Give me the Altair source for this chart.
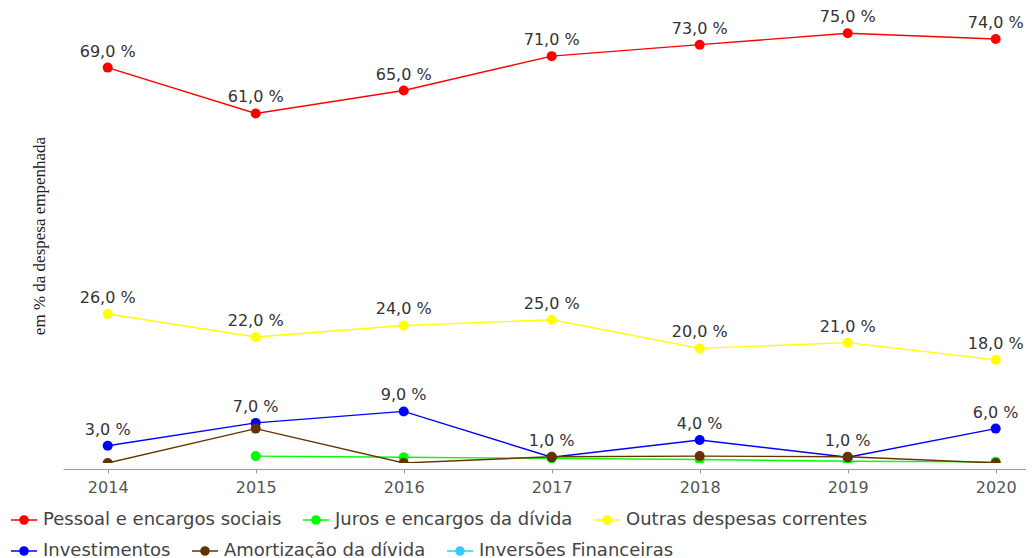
import altair as alt
import pandas as pd

years = ["2014", "2015", "2016", "2017", "2018", "2019", "2020"]
series_names = [
    "Pessoal e encargos sociais",
    "Juros e encargos da dívida",
    "Outras despesas correntes",
    "Investimentos",
    "Amortização da dívida",
    "Inversões Financeiras",
]
series_colors = ["#ff0000", "#00ff00", "#ffff00", "#0000ff", "#663300", "#33ccff"]

pessoal = [69, 61, 65, 71, 73, 75, 74]
juros = [None, 1.2, 1.0, 0.8, 0.6, 0.3, 0.2]
outras = [26, 22, 24, 25, 20, 21, 18]
investimentos = [3, 7, 9, 1, 4, 1, 6]
amortizacao = [0, 6, 0, 1.1, 1.2, 1.1, 0]
inversoes = [None, None, None, None, None, None, None]

labeled_series = [series_names[0], series_names[2], series_names[3]]

all_values = [pessoal, juros, outras, investimentos, amortizacao, inversoes]
rows = []
for name, vals in zip(series_names, all_values):
    for yr, v in zip(years, vals):
        if v is None:
            continue
        rows.append({
            "ano": yr,
            "serie": name,
            "valor": v,
            "rotulo": f"{v:.1f}".replace(".", ",") + " %",
        })
df = pd.DataFrame(rows)

PLOT_W = 963
PLOT_H = 455

x_enc = alt.X(
    "ano:O",
    scale=alt.Scale(type="point", domain=years, padding=0.2534, align=0.596),
    axis=alt.Axis(
        title=None, labelAngle=0, offset=6, domainColor="#999999", tickColor="#999999",
        tickSize=4, labelColor="#555555", labelFont="DejaVu Sans", labelFontSize=16,
        labelPadding=6, grid=False,
    ),
)
y_enc = alt.Y(
    "valor:Q",
    scale=alt.Scale(domain=[0, 79.4], nice=False, zero=False),
    axis=alt.Axis(
        title="em % da despesa empenhada", labels=False, ticks=False, domain=False,
        grid=False, titleFont="Liberation Serif", titleFontSize=17,
        titleFontWeight="normal", titleColor="#222222", titlePadding=15,
    ),
)

row1_names = series_names[:3]
row1_colors = series_colors[:3]
row2_names = series_names[3:]
row2_colors = series_colors[3:]


def rings(radii):
    parts = ["M-1,0L1,0"]
    for r in radii:
        parts.append(f"M{-r},0A{r},{r},0,1,1,{r},0A{r},{r},0,1,1,{-r},0")
    return "".join(parts)


symbol_path = rings([0.05, 0.12, 0.2, 0.27, 0.31])


def legend_row(y):
    return alt.Legend(
        title=None, orient="none", legendX=-53, legendY=y, direction="horizontal",
        symbolType=symbol_path, symbolSize=676, symbolStrokeWidth=1.5,
        labelFont="DejaVu Sans", labelFontSize=18, labelColor="#444444",
        columnPadding=18, labelOffset=5, labelLimit=400,
    )


base = alt.Chart(df).encode(x=x_enc, y=y_enc)

lines_row1 = base.transform_filter(
    alt.FieldOneOfPredicate(field="serie", oneOf=row1_names)
).mark_line(strokeWidth=1.4, clip=True).encode(
    color=alt.Color(
        "serie:N",
        scale=alt.Scale(domain=row1_names, range=row1_colors),
        legend=legend_row(498),
    ),
)

lines_row2 = base.transform_filter(
    alt.FieldOneOfPredicate(field="serie", oneOf=row2_names)
).mark_line(strokeWidth=1.4, clip=True).encode(
    stroke=alt.Stroke(
        "serie:N",
        scale=alt.Scale(domain=row2_names, range=row2_colors),
        legend=legend_row(529),
    ),
)

points = base.mark_circle(size=100, opacity=1, clip=True).encode(
    fill=alt.Fill(
        "serie:N",
        scale=alt.Scale(domain=series_names, range=series_colors),
        legend=None,
    ),
)

labels = base.transform_filter(
    alt.FieldOneOfPredicate(field="serie", oneOf=labeled_series)
).mark_text(dy=-16, fontSize=16, font="DejaVu Sans", color="#333333").encode(
    text="rotulo:N"
)

chart = alt.layer(lines_row1, lines_row2, points, labels).resolve_scale(
    color="independent", stroke="independent", fill="independent"
).properties(
    width=PLOT_W,
    height=PLOT_H,
    padding={"left": 55, "top": 0, "right": 0, "bottom": 110},
    autosize=alt.AutoSizeParams(type="none"),
    background="white",
).configure_view(stroke=None)

chart.save("out.html", embed_options={"renderer": "svg", "actions": False})
